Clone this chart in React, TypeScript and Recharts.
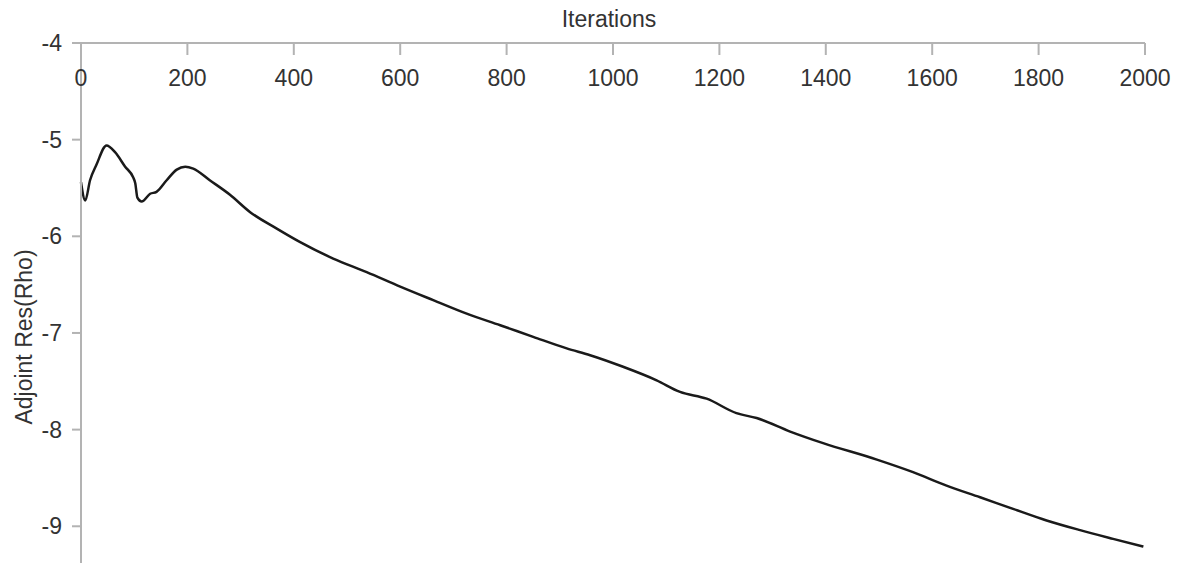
import { LineChart, Line, XAxis, YAxis } from "recharts";

// iterations and adjoint residual (log10)
const iterations = [
  0, 8, 17, 29, 48, 64, 83, 98, 102, 106, 114, 130, 142, 161, 180, 196, 211, 242, 280,
  318, 368, 412, 474, 537, 600, 662, 725, 788, 850, 913, 957, 1019, 1082, 1126,
  1176, 1232, 1270, 1333, 1395, 1496, 1564, 1627, 1690, 1752, 1815, 1878, 1940, 1997,
];
const residual = [
  -5.44, -5.63, -5.42, -5.26, -5.06, -5.13, -5.28, -5.39, -5.45, -5.6, -5.64, -5.56,
  -5.54, -5.42, -5.31, -5.28, -5.3, -5.42, -5.57, -5.75, -5.92, -6.06, -6.23, -6.37,
  -6.52, -6.66, -6.8, -6.92, -7.04, -7.16, -7.23, -7.35, -7.49, -7.61, -7.68, -7.83,
  -7.88, -8.02, -8.14, -8.31, -8.44, -8.58, -8.7, -8.82, -8.94, -9.04, -9.13, -9.21,
];
const xTicks = [0, 200, 400, 600, 800, 1000, 1200, 1400, 1600, 1800, 2000];
const yTicks = [-9, -8, -7, -6, -5, -4];

const data = iterations.map((it, i) => ({ it, res: residual[i] }));

const FONT = "'Liberation Sans', Arial, sans-serif";
const AXIS = "#b3b3b3";
const TEXT = "#333333";

export default function App() {
  return (
    <div
      style={{
        position: "absolute",
        left: 0,
        top: 0,
        width: 1180,
        height: 563,
        background: "#fff",
        fontFamily: FONT,
        overflow: "hidden",
      }}
    >
      <LineChart
        width={1180}
        height={563}
        data={data}
        margin={{ top: 43, right: 35, left: 0, bottom: 0 }}
      >
        <XAxis
          dataKey="it"
          type="number"
          orientation="top"
          mirror
          domain={[0, 2000]}
          ticks={xTicks}
          interval={0}
          tickSize={12}
          tickMargin={15}
          axisLine={{ stroke: AXIS, strokeWidth: 2 }}
          tickLine={{ stroke: AXIS, strokeWidth: 2 }}
          tick={{ fontSize: 23, fill: TEXT, fontFamily: FONT }}
        />
        <YAxis
          type="number"
          domain={[-9.38, -4]}
          ticks={yTicks}
          allowDataOverflow
          interval={0}
          width={81}
          tickSize={9}
          tickMargin={10}
          axisLine={{ stroke: AXIS, strokeWidth: 2 }}
          tickLine={{ stroke: AXIS, strokeWidth: 2 }}
          tick={{ fontSize: 23, fill: TEXT, fontFamily: FONT }}
        />
        <Line
          type="monotone"
          dataKey="res"
          stroke="#1a1a1a"
          strokeWidth={2.5}
          dot={false}
          isAnimationActive={false}
        />
      </LineChart>
      <div
        style={{
          position: "absolute",
          left: 609,
          top: 8,
          transform: "translateX(-50%)",
          fontSize: 23,
          lineHeight: "23px",
          color: TEXT,
          whiteSpace: "nowrap",
        }}
      >
        Iterations
      </div>
      <div
        style={{
          position: "absolute",
          left: 24,
          top: 337,
          transform: "translate(-50%, -50%) rotate(-90deg)",
          fontSize: 23,
          lineHeight: "23px",
          color: TEXT,
          whiteSpace: "nowrap",
        }}
      >
        Adjoint Res(Rho)
      </div>
    </div>
  );
}
